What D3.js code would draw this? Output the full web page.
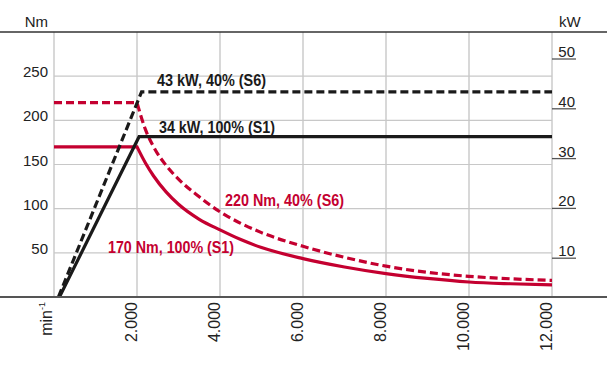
<!DOCTYPE html>
<html>
<head>
<meta charset="utf-8">
<script src="https://d3js.org/d3.v7.min.js"></script>
<style>
  body { margin: 0; background: #fff; }
  svg text { font-family: "Liberation Sans", Arial, sans-serif; fill: #222; }
</style>
</head>
<body>
<svg id="chart" width="607" height="370"></svg>
<script>
// data
const rpmTicks = [2000, 4000, 6000, 8000, 10000, 12000];
const rpmLabels = ["2.000", "4.000", "6.000", "8.000", "10.000", "12.000"];
const nmTicks = [50, 100, 150, 200, 250];
const kwTicks = [10, 20, 30, 40, 50];

// torque curves (rpm, Nm): flat part, then falling part
const torqueS1Flat = [[0, 170], [2000, 170]];
const torqueS1Fall = [[2000, 170], [2200, 152], [2400, 137], [2700, 119], [3000, 105],
                      [3500, 88], [4000, 76], [4500, 65], [5000, 56], [6000, 43.5],
                      [7000, 34], [8000, 26.5], [9000, 21], [10000, 17], [11000, 15], [12000, 13.7]];
const torqueS6Flat = [[0, 220], [2000, 220]];
const torqueS6Fall = [[2000, 220], [2200, 190], [2400, 170], [2700, 149], [3000, 133.4],
                      [3500, 113.4], [4000, 96.4], [4500, 83.4], [5000, 72.9], [6000, 57.4],
                      [7000, 44.9], [8000, 34.9], [9000, 27.9], [10000, 23.4], [11000, 20.6], [12000, 18.8]];

// power curves (rpm, kW)
const powerS1 = [[0, 0], [2050, 34.4], [12000, 34.4]];
const powerS6 = [[0, 0], [2110, 43.4], [12000, 43.4]];

const labels = [
  {text: "43 kW, 40% (S6)",   color: "#1a1a1a", x: 157, y: 86,  len: 109},
  {text: "34 kW, 100% (S1)",  color: "#1a1a1a", x: 159, y: 133, len: 116},
  {text: "220 Nm, 40% (S6)",  color: "#c40030", x: 225, y: 206, len: 119},
  {text: "170 Nm, 100% (S1)", color: "#c40030", x: 108, y: 253, len: 126}
];

const svg = d3.select("svg#chart");
const red = "#c40030";
const dark = "#1a1a1a";

const x = d3.scaleLinear().domain([0, 12000]).range([54, 552]);
const yL = d3.scaleLinear().domain([0, 300]).range([297, 32]);
const yR = d3.scaleLinear().domain([0, 50]).range([308, 59]);

svg.append("clipPath").attr("id", "plotclip")
   .append("rect").attr("x", 54).attr("y", 20).attr("width", 498).attr("height", 277);

// grid
const grid = svg.append("g");
grid.selectAll("line.h").data(nmTicks).join("line")
    .attr("x1", 54).attr("x2", 552)
    .attr("y1", d => yL(d)).attr("y2", d => yL(d))
    .attr("stroke", "#c8c8c8").attr("stroke-width", 1.2);
grid.selectAll("line.v").data([0].concat(rpmTicks)).join("line")
    .attr("x1", d => x(d)).attr("x2", d => x(d))
    .attr("y1", 32).attr("y2", 297)
    .attr("stroke", "#c8c8c8").attr("stroke-width", 1.4);

// top frame line
svg.append("line").attr("x1", 0).attr("x2", 607).attr("y1", 32).attr("y2", 32)
   .attr("stroke", "#333").attr("stroke-width", 1.6);

// left axis labels
svg.selectAll("text.yl").data(nmTicks).join("text")
   .attr("x", 48).attr("y", d => yL(d) + 1)
   .attr("text-anchor", "end").attr("font-size", 15)
   .text(d => d);
svg.append("text").attr("x", 48).attr("y", 27).attr("text-anchor", "end")
   .attr("font-size", 15).text("Nm");

// right axis ticks and labels
svg.selectAll("line.yr").data(kwTicks).join("line")
   .attr("x1", 552).attr("x2", 576)
   .attr("y1", d => yR(d)).attr("y2", d => yR(d))
   .attr("stroke", "#555").attr("stroke-width", 1.3);
svg.selectAll("text.yr").data(kwTicks).join("text")
   .attr("x", 575).attr("y", d => yR(d) - 2)
   .attr("text-anchor", "end").attr("font-size", 15)
   .text(d => d);
svg.append("text").attr("x", 559).attr("y", 27).attr("font-size", 15).text("kW");

// x labels, rotated
svg.selectAll("text.x").data(rpmTicks).join("text")
   .attr("transform", d => `translate(${x(d)},302) rotate(-90)`)
   .attr("text-anchor", "end").attr("font-size", 16)
   .text((d, i) => rpmLabels[i]);
const unit = svg.append("text")
   .attr("transform", `translate(${x(0) - 2},302) rotate(-90)`)
   .attr("text-anchor", "end").attr("font-size", 16);
unit.append("tspan").text("min");
unit.append("tspan").attr("dy", -7).attr("font-size", 9).text("-1");

// curves
const plot = svg.append("g").attr("clip-path", "url(#plotclip)");
const lin = d3.line().x(d => x(d[0])).y(d => yL(d[1]));
const mono = d3.line().x(d => x(d[0])).y(d => yL(d[1])).curve(d3.curveMonotoneX);
const linR = d3.line().x(d => x(d[0])).y(d => yR(d[1]));

function torquePath(flat, fall) {
  return lin(flat) + mono(fall).replace(/^M/, "L");
}

plot.append("path").attr("d", torquePath(torqueS6Flat, torqueS6Fall))
    .attr("fill", "none").attr("stroke", red).attr("stroke-width", 3.2)
    .attr("stroke-dasharray", "8,4");
plot.append("path").attr("d", torquePath(torqueS1Flat, torqueS1Fall))
    .attr("fill", "none").attr("stroke", red).attr("stroke-width", 3.2);
plot.append("path").attr("d", linR(powerS6))
    .attr("fill", "none").attr("stroke", dark).attr("stroke-width", 3.2)
    .attr("stroke-dasharray", "8,4");
plot.append("path").attr("d", linR(powerS1))
    .attr("fill", "none").attr("stroke", dark).attr("stroke-width", 3.2);

// bottom axis line
svg.append("line").attr("x1", 0).attr("x2", 607).attr("y1", 297).attr("y2", 297)
   .attr("stroke", "#555").attr("stroke-width", 2.2);

// curve annotations
svg.selectAll("text.lab").data(labels).join("text")
   .attr("x", d => d.x).attr("y", d => d.y)
   .attr("font-size", 16).attr("font-weight", "bold")
   .attr("textLength", d => d.len).attr("lengthAdjust", "spacingAndGlyphs")
   .style("fill", d => d.color)
   .text(d => d.text);
</script>
</body>
</html>
